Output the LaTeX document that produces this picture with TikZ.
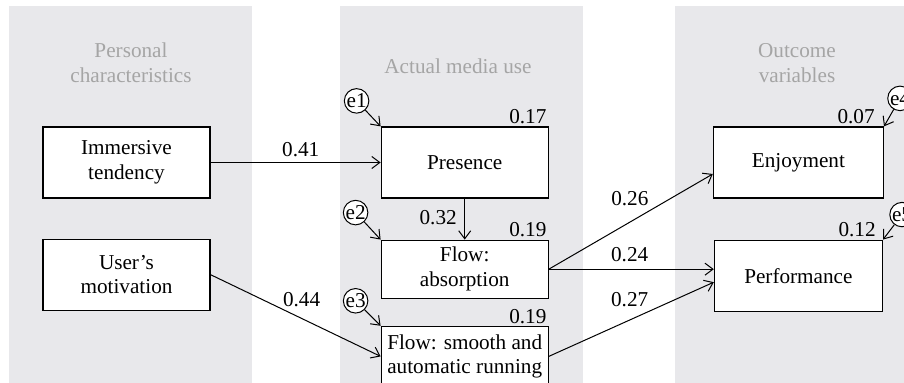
\documentclass[tikz,border=0pt]{standalone}
\usepackage{fontspec}
\setmainfont{Liberation Serif}
\usetikzlibrary{positioning}
\usetikzlibrary{arrows.meta}
\definecolor{panelgrey}{RGB}{232,232,235}
\definecolor{titlegrey}{RGB}{165,165,165}

\begin{document}
\begin{tikzpicture}[
            x=1pt, y=1pt,
            font=\fontsize{10.6}{12.3}\selectfont,
            whitesquarednode/.style={rectangle, draw=black, fill=white, line width=0.6pt, align=center, inner sep=1pt, minimum width=83.5pt, minimum height=35.5pt},
            errorcirclenode/.style={circle, draw=black, fill=white, line width=0.5pt, inner sep=0pt, minimum size=11.8pt, font=\fontsize{10.6}{12}\selectfont},
            titlenode/.style={align=center, text=titlegrey},
            valuenode/.style={inner sep=1pt},
            >={Straight Barb[length=4pt,width=6pt]},
            ]

            \useasboundingbox (0,0) rectangle (452,191.5);

            % grey columns
            \fill[panelgrey] (4.5,0) rectangle (126,188.5);
            \fill[panelgrey] (170,0) rectangle (291.5,188.5);
            \fill[panelgrey] (337.5,0) rectangle (455,188.5);

            \node[titlenode] (tpersonal) at (65.5,160) {Personal\\characteristics};
            \node[titlenode] (tactual) at (229,158.5) {Actual media use};
            \node[titlenode] (toutcome) at (398.5,160) {Outcome\\variables};

            % variables
            \node[whitesquarednode] (immersive) at (63.25,110.25) {Immersive\\tendency};
            \node[whitesquarednode, below=20pt of immersive] (motivation) {User's\\motivation};
            \node[whitesquarednode, right=85pt of immersive] (presence) {Presence};
            \node[whitesquarednode, minimum height=29pt, below=20.5pt of presence] (absorption) {Flow:\\absorption};
            \node[whitesquarednode, minimum height=30pt, below=13.5pt of absorption] (smooth) {Flow: smooth and\\automatic running};
            \node[whitesquarednode, minimum width=85pt, right=82pt of presence] (enjoyment) {Enjoyment};
            \node[whitesquarednode, minimum width=84pt, below=20.5pt of enjoyment] (performance) {Performance};

            % error terms
            \node[errorcirclenode, xshift=-12pt, yshift=12.75pt] (e1) at (presence.north west) {e1};
            \node[errorcirclenode, xshift=-12.5pt, yshift=13.5pt] (e2) at (absorption.north west) {e2};
            \node[errorcirclenode, xshift=-12.5pt, yshift=12.5pt] (e3) at (smooth.north west) {e3};
            \node[errorcirclenode, xshift=8pt, yshift=14pt] (e4) at (enjoyment.north east) {e4};
            \node[errorcirclenode, xshift=9.5pt, yshift=12.5pt] (e5) at (performance.north east) {e5};

            \draw[->, line width=0.5pt] (e1) -- (presence.north west);
            \draw[->, line width=0.5pt] (e2) -- (absorption.north west);
            \draw[->, line width=0.5pt] (e3) -- (smooth.north west);
            \draw[->, line width=0.5pt] (e4) -- (enjoyment.north east);
            \draw[->, line width=0.5pt] (e5) -- (performance.north east);

            % explained variance
            \node[valuenode, anchor=south east] (r1) at (presence.north east) {0.17};
            \node[valuenode, anchor=south east] (r2) at (absorption.north east) {0.19};
            \node[valuenode, anchor=south east] (r3) at (smooth.north east) {0.19};
            \node[valuenode, anchor=south east, xshift=-3.5pt] (r4) at (enjoyment.north east) {0.07};
            \node[valuenode, anchor=south east, xshift=-2.5pt] (r5) at (performance.north east) {0.12};

            % paths
            \draw[->, line width=0.5pt] (immersive.east) -- node[valuenode, above=1.5pt, pos=0.53] {0.41} (presence.west);
            \draw[->, line width=0.5pt] (motivation.east) -- node[valuenode, above=4.4pt, pos=0.535] {0.44} (smooth.west);
            \draw[->, line width=0.5pt] (presence.south) -- node[valuenode, left=2.75pt, pos=0.46] {0.32} (absorption.north);
            \draw[->, line width=0.5pt] (absorption.east) -- node[valuenode, above=7pt, pos=0.494] {0.26} ([yshift=-5.75pt]enjoyment.west);
            \draw[->, line width=0.5pt] (absorption.east) -- node[valuenode, above=2.5pt, pos=0.49] {0.24} (absorption.east -| performance.west);
            \draw[->, line width=0.5pt] (smooth.east) -- node[valuenode, above=5.2pt, pos=0.49] {0.27} ([yshift=-3.25pt]performance.west);
        \end{tikzpicture}
\end{document}
